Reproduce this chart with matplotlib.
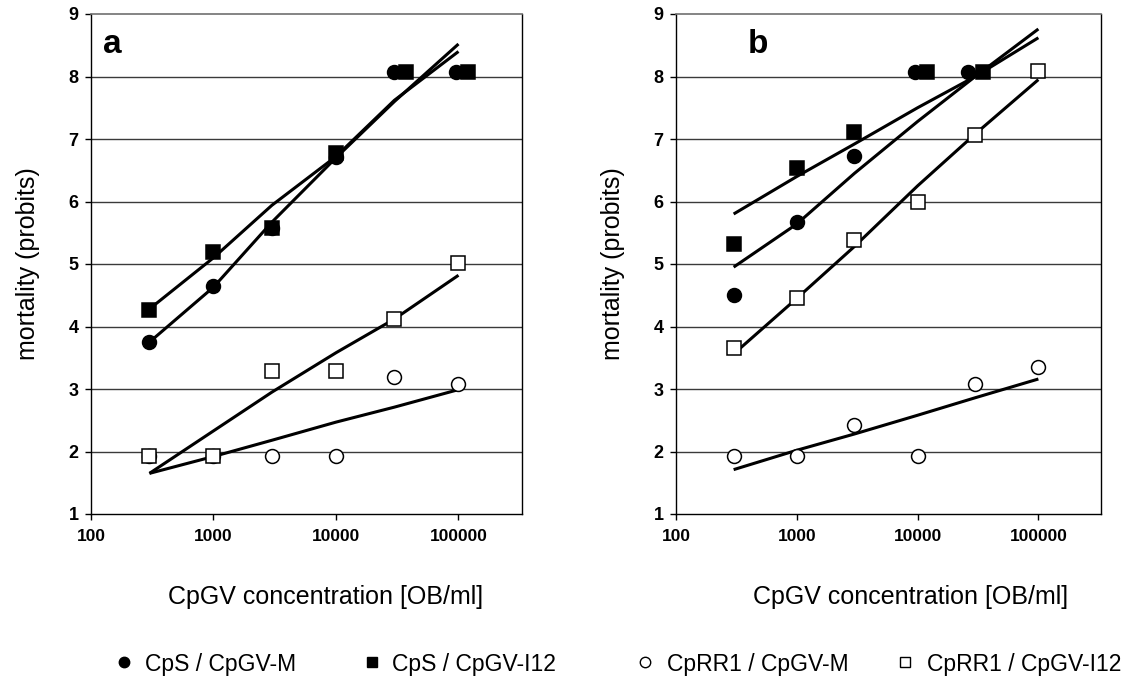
import matplotlib
matplotlib.use("Agg")
import matplotlib.pyplot as plt
from matplotlib.lines import Line2D

plt.rcParams['font.family'] = ['Liberation Sans', 'DejaVu Sans']

# ---------------- data ----------------
fit_x = [300, 1000, 3000, 10000, 30000, 100000]

# panel a
a_cs_m_x = [300, 1000, 3000, 10000, 30000, 96000]
a_cs_m_y = [3.75, 4.65, 5.58, 6.72, 8.08, 8.08]
a_cs_i_x = [300, 1000, 3000, 10000, 37000, 120000]
a_cs_i_y = [4.27, 5.19, 5.57, 6.77, 8.08, 8.08]
a_rr_m_x = [300, 1000, 3000, 10000, 30000, 100000]
a_rr_m_y = [1.93, 1.93, 1.93, 1.93, 3.2, 3.08]
a_rr_i_x = [300, 1000, 3000, 10000, 30000, 100000]
a_rr_i_y = [1.93, 1.93, 3.29, 3.29, 4.12, 5.01]
a_fit_cs_m = [3.75, 4.63, 5.67, 6.70, 7.60, 8.52]
a_fit_cs_i = [4.28, 5.10, 5.94, 6.72, 7.62, 8.40]
a_fit_rr_m = [1.65, 1.92, 2.18, 2.47, 2.71, 2.99]
a_fit_rr_i = [1.65, 2.33, 2.95, 3.58, 4.12, 4.82]

# panel b
b_cs_m_x = [300, 1000, 3000, 9500, 26000]
b_cs_m_y = [4.51, 5.67, 6.73, 8.08, 8.08]
b_cs_i_x = [300, 1000, 3000, 12000, 35000]
b_cs_i_y = [5.32, 6.54, 7.12, 8.08, 8.08]
b_rr_m_x = [300, 1000, 3000, 10000, 30000, 100000]
b_rr_m_y = [1.93, 1.93, 2.42, 1.93, 3.08, 3.36]
b_rr_i_x = [300, 1000, 3000, 10000, 30000, 100000]
b_rr_i_y = [3.65, 4.45, 5.39, 6.0, 7.06, 8.09]
b_fit_cs_m = [4.95, 5.64, 6.45, 7.28, 8.00, 8.76]
b_fit_cs_i = [5.80, 6.40, 6.92, 7.50, 8.00, 8.62]
b_fit_rr_m = [1.71, 2.02, 2.28, 2.58, 2.86, 3.16]
b_fit_rr_i = [3.56, 4.45, 5.28, 6.25, 7.08, 7.95]

legend_labels = ['CpS / CpGV-M', 'CpS / CpGV-I12', 'CpRR1 / CpGV-M', 'CpRR1 / CpGV-I12']
x_ticks = [100, 1000, 10000, 100000]
y_ticks = [1, 2, 3, 4, 5, 6, 7, 8, 9]

# ---------------- figure ----------------
W, H = 1129, 684
fig = plt.figure(figsize=(W / 100, H / 100), dpi=100)

def frac(l, t, r, b):
    return [l / W, 1 - b / H, (r - l) / W, (b - t) / H]

ax_a = fig.add_axes(frac(91, 14, 522, 514))
ax_b = fig.add_axes(frac(676, 14, 1101, 514))

ms = 10
styles = [
    dict(marker='o', mfc='black', mec='black'),
    dict(marker='s', mfc='black', mec='black'),
    dict(marker='o', mfc='white', mec='black'),
    dict(marker='s', mfc='white', mec='black'),
]
grid_col = '#3a3a3a'

def draw(ax, pts, fits):
    for f in fits:
        ax.plot(fit_x, f, color='black', lw=2.2, zorder=2, solid_capstyle='butt')
    for (x, y), st in zip(pts, styles):
        ax.plot(x, y, ls='none', ms=ms, mew=1.1, zorder=3, **st)
    ax.set_xscale('log')
    ax.set_xlim(100, 330000)
    ax.set_ylim(1, 9)
    ax.set_xticks(x_ticks)
    ax.set_xticklabels([str(v) for v in x_ticks], fontweight='bold', fontsize=12.5)
    ax.minorticks_off()
    ax.set_yticks(y_ticks)
    ax.set_yticklabels([str(v) for v in y_ticks], fontweight='bold', fontsize=13)
    ax.tick_params(axis='x', direction='out', length=4, width=1, color='black', pad=7)
    ax.tick_params(axis='y', direction='out', length=4, width=1, color='black', pad=5)
    for yv in y_ticks[1:-1]:
        ax.axhline(yv, color=grid_col, lw=1.0, zorder=1)
    ax.spines['top'].set_color('#707070')
    ax.spines['top'].set_linewidth(1.2)
    for s in ['left', 'bottom', 'right']:
        ax.spines[s].set_color('black')
        ax.spines[s].set_linewidth(1.0)

draw(ax_a,
     [(a_cs_m_x, a_cs_m_y), (a_cs_i_x, a_cs_i_y), (a_rr_m_x, a_rr_m_y), (a_rr_i_x, a_rr_i_y)],
     [a_fit_cs_m, a_fit_cs_i, a_fit_rr_m, a_fit_rr_i])
draw(ax_b,
     [(b_cs_m_x, b_cs_m_y), (b_cs_i_x, b_cs_i_y), (b_rr_m_x, b_rr_m_y), (b_rr_i_x, b_rr_i_y)],
     [b_fit_cs_m, b_fit_cs_i, b_fit_rr_m, b_fit_rr_i])

# overlay axes in pixel coordinates for texts and legend
ov = fig.add_axes([0, 0, 1, 1], zorder=10)
ov.set_xlim(0, W)
ov.set_ylim(H, 0)
ov.axis('off')

lab_fs = 18
for cx in (28, 613):
    ov.text(cx, 264, 'mortality (probits)', rotation=90, ha='center', va='center',
            fontsize=lab_fs)
for cx in (326, 911):
    ov.text(cx, 597, 'CpGV concentration [OB/ml]', ha='center', va='center',
            fontsize=lab_fs)
ov.text(103, 53, 'a', fontsize=24, fontweight='bold', ha='left', va='baseline')
ov.text(748, 53, 'b', fontsize=24, fontweight='bold', ha='left', va='baseline')

leg_marker_x = [124, 372, 645, 905]
leg_text_x = [145, 392, 667, 927]
leg_y = 665
for st, mx, tx, lab in zip(styles, leg_marker_x, leg_text_x, legend_labels):
    ov.plot([mx], [leg_y - 3], ls='none', ms=7.5, mew=1.0, **st)
    ov.text(tx, leg_y, lab, ha='left', va='center', fontsize=16.5)

fig.savefig('out.png', dpi=100)
